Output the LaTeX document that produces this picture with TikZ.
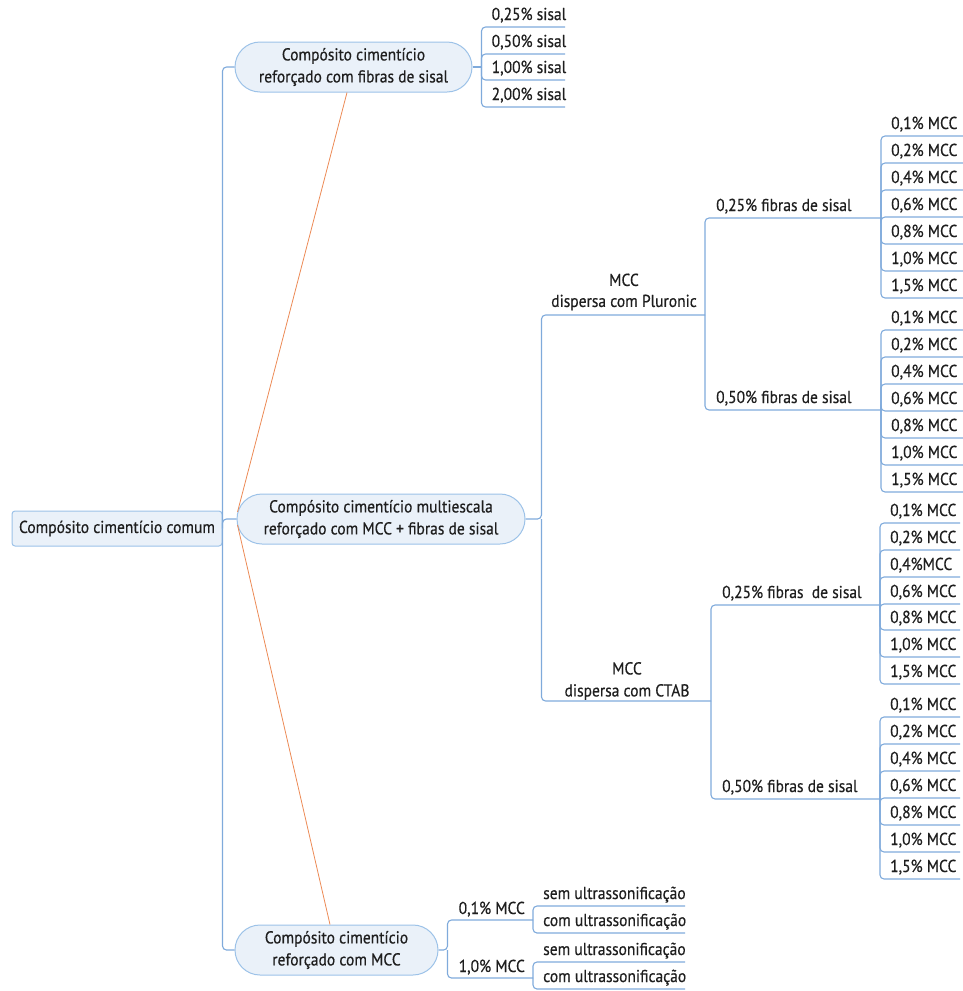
\documentclass[tikz,border=0pt]{standalone}
\usepackage{fontspec}
\setmainfont{PT Sans}[FakeStretch=0.9, FakeBold=0.5]
\usetikzlibrary{calc}
\definecolor{branch}{HTML}{7FAADB}
\definecolor{topicline}{HTML}{9CC2E8}
\definecolor{topicfill}{HTML}{EAF1F9}
\definecolor{rel}{HTML}{EC8A55}
\definecolor{ink}{HTML}{1E1E1E}

% #1 name prefix, #2 junction coordinate, #3 right end x, #4 list of underline-y/{text}
\newcommand\leafset[4]{%
  \foreach \uy/\txt [count=\k] in {#4}{%
    \coordinate (#1\k) at (#2 |- 0,\uy);
    \node[lbl] (#1\k-t) at ($(#1\k)+(10,-7)$) {\txt};
    \draw[br] (#2) -- (#1\k) -- (#1\k -| #3,0);
  }}

\begin{document}
\begin{tikzpicture}[x=1pt,y=-1pt,
  font=\fontsize{17.25}{21}\selectfont, text=ink,
  br/.style={draw=branch, line width=1.1pt, rounded corners=4pt},
  topic/.style={draw=topicline, fill=topicfill, line width=1pt,
    rounded corners=25pt, inner sep=0pt, align=center,
    font=\fontsize{17.25}{22}\selectfont},
  lbl/.style={inner sep=0pt, anchor=base west},
  relline/.style={draw=rel, line width=0.8pt}]
\useasboundingbox (0,0) rectangle (963,991);

% main topics
\node[topic, rounded corners=3pt, minimum width=210pt, minimum height=35pt]
  (root) at (117,528.5) {Compósito cimentício comum};
\node[topic, minimum width=237pt, minimum height=50pt] (s1) at (353.5,67)
  {Compósito cimentício\\reforçado com fibras de sisal};
\node[topic, minimum width=288pt, minimum height=50pt] (m) at (381,519)
  {Compósito cimentício multiescala\\reforçado com MCC + fibras de sisal};
\node[topic, minimum width=203pt, minimum height=50pt] (mc) at (336.5,950)
  {Compósito cimentício\\reforçado com MCC};

% root branches
\draw[br] (root.east) -- (root.east |- s1.west) -- (s1.west);
\draw[br] (root.east) -- (root.east |- m.west) -- (m.west);
\draw[br] (root.east) -- (root.east |- mc.west) -- (mc.west);

% relationship lines
\draw[relline] ($(s1.south)+(-6.5,0)$) -- ($(m.west)+(1,-7)$);
\draw[relline] ($(m.west)+(1,6)$) -- ($(mc.north)+(-6.5,0)$);

% sisal fibre contents
\coordinate (sj) at ($(s1.east)+(9,0)$);
\draw[br] (s1.east) -- (sj);
\leafset{S}{sj}{565}{27/{0,25\% sisal},54/{0,50\% sisal},80/{1,00\% sisal},107/{2,00\% sisal}}

% multiscale composite
\coordinate (mj) at ($(m.east)+(16,0)$);
\coordinate (plu) at (mj |- 0,315);
\coordinate (plue) at (705,315);
\coordinate (cta) at (mj |- 0,701);
\coordinate (ctae) at (711,701);
\draw[br] (m.east) -- (mj) -- (plu) -- (plue);
\draw[br] (mj) -- (cta) -- (ctae);
\node[inner sep=0pt, align=center] (plut) at (624,292) {MCC\\dispersa com Pluronic};
\node[inner sep=0pt, align=center, font=\fontsize{17.25}{22}\selectfont]
  (ctat) at (627,681) {MCC\\dispersa com CTAB};

% Pluronic: fibre contents
\coordinate (fa) at (plue |- 0,218);
\coordinate (fae) at (881,218);
\coordinate (fb) at (plue |- 0,410);
\coordinate (fbe) at (881,410);
\draw[br] (plue) -- (fa) -- (fae);
\draw[br] (plue) -- (fb) -- (fbe);
\node[lbl] (fat) at ($(fa)+(11,-7)$) {0,25\% fibras de sisal};
\node[lbl] (fbt) at ($(fb)+(11,-7)$) {0,50\% fibras de sisal};

% CTAB: fibre contents
\coordinate (fc) at (ctae |- 0,605);
\coordinate (fce) at (880,605);
\coordinate (fd) at (ctae |- 0,799);
\coordinate (fde) at (880,799);
\draw[br] (ctae) -- (fc) -- (fce);
\draw[br] (ctae) -- (fd) -- (fde);
\node[lbl] (fct) at ($(fc)+(11,-7)$) {0,25\% fibras~ de sisal};
\node[lbl] (fdt) at ($(fd)+(11,-7)$) {0,50\% fibras de sisal};

% MCC contents
\leafset{A}{fae}{963}{136/{0,1\% MCC},163/{0,2\% MCC},190/{0,4\% MCC},217/{0,6\% MCC},244/{0,8\% MCC},271/{1,0\% MCC},298/{1,5\% MCC}}
\leafset{B}{fbe}{963}{330/{0,1\% MCC},357/{0,2\% MCC},384/{0,4\% MCC},411/{0,6\% MCC},438/{0,8\% MCC},465/{1,0\% MCC},492/{1,5\% MCC}}
\leafset{C}{fce}{960}{523/{0,1\% MCC},550/{0,2\% MCC},577/{0,4\%MCC},604/{0,6\% MCC},630/{0,8\% MCC},657/{1,0\% MCC},684/{1,5\% MCC}}
\leafset{D}{fde}{960}{717/{0,1\% MCC},744/{0,2\% MCC},771/{0,4\% MCC},798/{0,6\% MCC},825/{0,8\% MCC},852/{1,0\% MCC},879/{1,5\% MCC}}

% MCC-only composite
\coordinate (mcj) at ($(mc.east)+(9,0)$);
\coordinate (e1) at (mcj |- 0,920);
\coordinate (e1e) at (533,920);
\coordinate (e2) at (mcj |- 0,978);
\coordinate (e2e) at (533,978);
\draw[br] (mc.east) -- (mcj) -- (e1) -- (e1e);
\draw[br] (mcj) -- (e2) -- (e2e);
\node[lbl] (e1t) at ($(e1)+(11,-6)$) {0,1\% MCC};
\node[lbl] (e2t) at ($(e2)+(11,-6)$) {1,0\% MCC};
\leafset{E}{e1e}{685}{906/{sem ultrassonificação},933/{com ultrassonificação}}
\leafset{F}{e2e}{685}{962/{sem ultrassonificação},989/{com ultrassonificação}}
\end{tikzpicture}
\end{document}
